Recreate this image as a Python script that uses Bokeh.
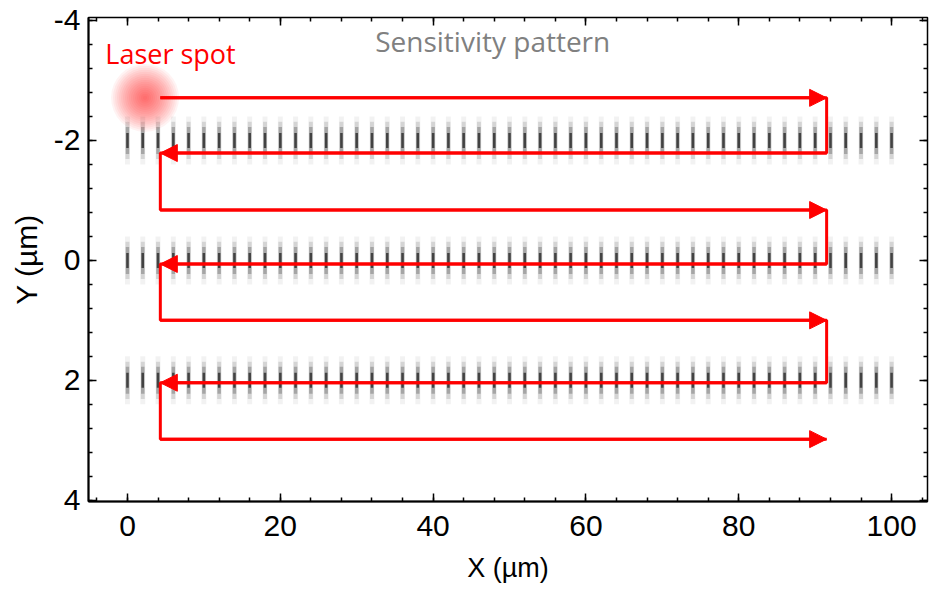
from bokeh.plotting import figure
from bokeh.models import Range1d, FixedTicker, LinearAxis, Arrow, NormalHead, ColumnDataSource, Label
from bokeh.embed import file_html
from bokeh.resources import INLINE

# ---- data ----
x_major = [0, 20, 40, 60, 80, 100]
x_minor = [-4, 0, 4, 8, 12, 16, 20, 24, 28, 32, 36, 40, 44, 48, 52, 56, 60, 64, 68, 72, 76, 80, 84, 88, 92, 96, 100, 104]
y_major = [-4, -2, 0, 2, 4]
y_minor = [-4.0, -3.6, -3.2, -2.8, -2.4, -2.0, -1.6, -1.2, -0.8, -0.4, 0.0, 0.4, 0.8, 1.2, 1.6, 2.0,
           2.4, 2.8, 3.2, 3.6, 4.0]
y_labels = ["-4", "-2", "0", "2", "4"]

grating_x = [0, 2, 4, 6, 8, 10, 12, 14, 16, 18, 20, 22, 24, 26, 28, 30, 32, 34, 36, 38, 40, 42, 44, 46,
             48, 50, 52, 54, 56, 58, 60, 62, 64, 66, 68, 70, 72, 74, 76, 78, 80, 82, 84, 86, 88, 90, 92,
             94, 96, 98, 100]
grating_rows = [-2, 0, 2]

scan_x = [4.3, 91.5, 91.5, 4.3, 4.3, 91.5, 91.5, 4.3, 4.3, 91.5, 91.5, 4.3, 4.3, 91.5]
scan_y = [-2.71, -2.71, -1.79, -1.79, -0.84, -0.84, 0.06, 0.06, 1.0, 1.0, 2.04, 2.04, 2.98, 2.98]

spot_x = 2.3
spot_y = -2.71

AXIS_FONT = "'Liberation Sans', Arial, sans-serif"

p = figure(width=936, height=593, output_backend="svg", toolbar_location=None,
           x_range=Range1d(-5.1, 104.7), y_range=Range1d(4.02, -4.05),
           x_axis_label="X (µm)", y_axis_label="Y (µm)",
           min_border_left=88, min_border_right=9, min_border_top=17, min_border_bottom=92)
p.grid.visible = False
p.background_fill_color = "white"
p.border_fill_color = "white"
p.outline_line_color = "black"
p.outline_line_width = 1.5

def style_axis(ax, ticks, minors, labels=True):
    ax.ticker = FixedTicker(ticks=ticks, minor_ticks=minors)
    ax.major_tick_in = 8
    ax.major_tick_out = 0
    ax.minor_tick_in = 4
    ax.minor_tick_out = 0
    ax.major_tick_line_color = "black"
    ax.minor_tick_line_color = "black"
    ax.major_tick_line_width = 1.5
    ax.minor_tick_line_width = 1.5
    ax.axis_line_color = "black"
    ax.axis_line_width = 2
    if labels:
        ax.major_label_text_font = AXIS_FONT
        ax.major_label_text_font_size = "30px"
        ax.major_label_text_color = "black"
        ax.axis_label_text_font = AXIS_FONT
        ax.axis_label_text_font_size = "27px"
        ax.axis_label_text_font_style = "normal"
        ax.axis_label_text_color = "black"
    else:
        ax.major_label_overrides = {t: "" for t in ticks}
        ax.major_label_standoff = 0
        ax.axis_line_color = None

style_axis(p.xaxis[0], x_major, x_minor)
style_axis(p.yaxis[0], y_major, y_minor)
p.yaxis[0].major_label_overrides = {t: s for t, s in zip(y_major, y_labels)}
p.yaxis[0].axis_label_text_font_size = "30px"
p.xaxis[0].major_label_standoff = 14
p.xaxis[0].axis_label_standoff = 14
p.yaxis[0].major_label_standoff = 8
p.yaxis[0].axis_label_standoff = 8

top_ax = LinearAxis()
style_axis(top_ax, x_major, x_minor, labels=False)
p.add_layout(top_ax, "above")
right_ax = LinearAxis()
style_axis(right_ax, y_major, y_minor, labels=False)
p.add_layout(right_ax, "right")

# ---- grating (sensitivity pattern) ----
gx = [x for r in grating_rows for x in grating_x]
gy = [r for r in grating_rows for x in grating_x]
gsrc = ColumnDataSource(dict(x=gx, y=gy))
for w, h, a in [(5, 0.8, 0.05), (4, 0.62, 0.12), (3.5, 0.45, 0.22), (2.5, 0.25, 0.6)]:
    p.rect("x", "y", width=w, height=h, width_units="screen", source=gsrc,
           fill_color="black", fill_alpha=a, line_color=None)

# ---- laser spot ----
for r in [34, 32, 30, 28, 26, 24, 22, 20, 18, 16, 14, 12, 10, 8, 6, 4, 2]:
    p.scatter([spot_x], [spot_y], size=2 * r, marker="circle",
              fill_color="#ff1010", fill_alpha=0.05, line_color=None)

# ---- scan path ----
p.line(scan_x, scan_y, line_color="#ff0000", line_width=3)
hx0 = [scan_x[i] for i in range(0, len(scan_x) - 1, 2)]
hx1 = [scan_x[i + 1] for i in range(0, len(scan_x) - 1, 2)]
hy0 = [scan_y[i] for i in range(0, len(scan_y) - 1, 2)]
hy1 = [scan_y[i + 1] for i in range(0, len(scan_y) - 1, 2)]
asrc = ColumnDataSource(dict(x0=hx0, y0=hy0, x1=hx1, y1=hy1))
p.add_layout(Arrow(end=NormalHead(size=17, fill_color="#ff0000", line_color="#ff0000"),
                   x_start="x0", y_start="y0", x_end="x1", y_end="y1", source=asrc,
                   line_color="#ff0000", line_width=3))

# ---- texts ----
p.add_layout(Label(x=-2.9, y=-3.45, text="Laser spot", text_color="#ff0000",
                   text_font="Open Sans", text_font_size="27px",
                   text_baseline="middle", text_align="left"))
p.add_layout(Label(x=47.8, y=-3.65, text="Sensitivity pattern", text_color="#808080",
                   text_font="Open Sans", text_font_size="28px",
                   text_baseline="middle", text_align="center"))

open("out.html", "w").write(file_html(p, INLINE))
